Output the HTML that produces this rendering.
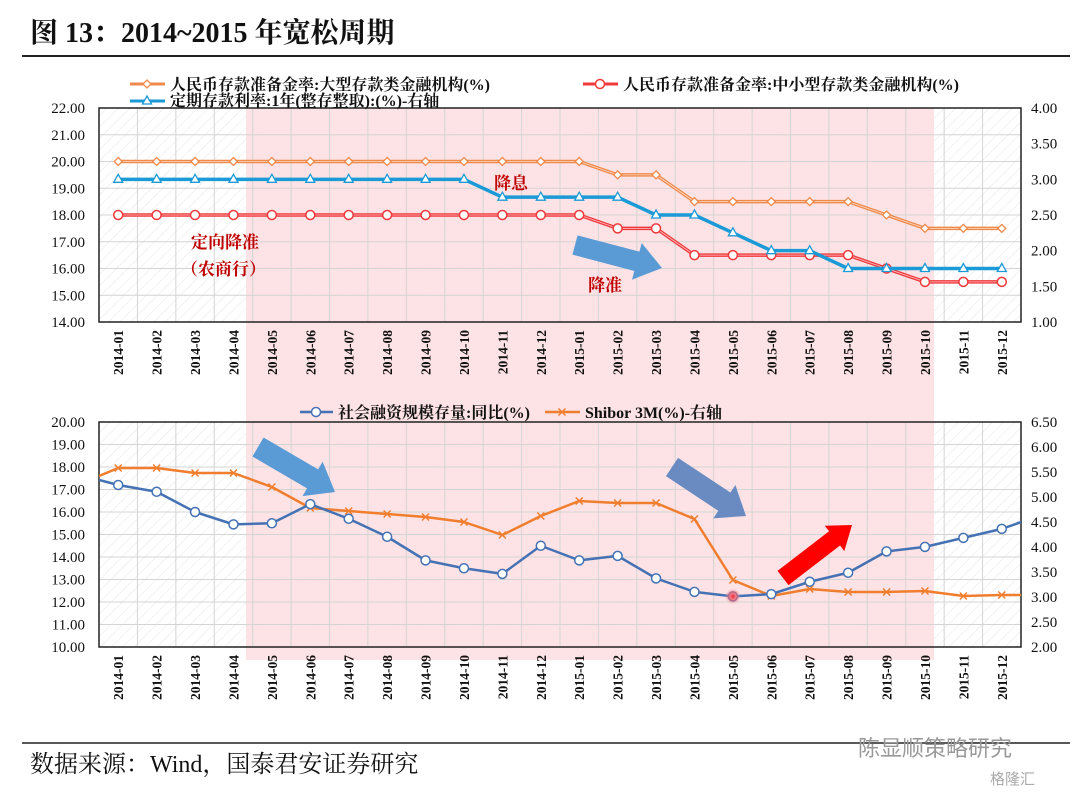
<!DOCTYPE html>
<html><head><meta charset="utf-8">
<style>
body{margin:0;background:#fff;}
svg{display:block;font-family:"Liberation Serif","Noto Serif CJK SC",serif;}
</style></head>
<body>
<svg id="c" width="1080" height="797" viewBox="0 0 1080 797">
<defs>
<pattern id="hatch" width="8" height="8" patternUnits="userSpaceOnUse" patternTransform="rotate(45)">
<line x1="0" y1="0" x2="0" y2="8" stroke="#e6e6e6" stroke-width="1"/></pattern>
<radialGradient id="glow"><stop offset="0" stop-color="#e8283a"/><stop offset="0.5" stop-color="#f06070" stop-opacity="0.7"/><stop offset="1" stop-color="#f8a0a8" stop-opacity="0"/></radialGradient>
</defs>
<text x="30" y="42" font-size="28" font-weight="bold" fill="#111">图 13：2014~2015 年宽松周期</text>
<line x1="22" y1="56" x2="1070" y2="56" stroke="#222" stroke-width="2"/>
<rect x="99" y="108" width="922" height="214" fill="url(#hatch)"/>
<rect x="99" y="422" width="922" height="225" fill="url(#hatch)"/>
<rect x="246" y="108" width="688" height="552" fill="#fde0e2" opacity="0.9"/>
<g id="top"></g><g id="bot"></g>
<line x1="22" y1="743" x2="1070" y2="743" stroke="#222" stroke-width="1.5"/>
<text x="30" y="772" font-size="24" fill="#111">数据来源：Wind，国泰君安证券研究</text>
<text x="858" y="756" font-size="22" fill="#999" font-family="Liberation Sans,Noto Sans CJK SC,sans-serif">陈显顺策略研究</text>
<text x="990" y="784" font-size="15" fill="#aaa" font-family="Liberation Sans,Noto Sans CJK SC,sans-serif">格隆汇</text>
</svg>
<script>
const cats=["2014-01","2014-02","2014-03","2014-04","2014-05","2014-06","2014-07","2014-08","2014-09","2014-10","2014-11","2014-12","2015-01","2015-02","2015-03","2015-04","2015-05","2015-06","2015-07","2015-08","2015-09","2015-10","2015-11","2015-12"];
const rrrLarge=[20,20,20,20,20,20,20,20,20,20,20,20,20,19.5,19.5,18.5,18.5,18.5,18.5,18.5,18,17.5,17.5,17.5];
const rrrSmall=[18,18,18,18,18,18,18,18,18,18,18,18,18,17.5,17.5,16.5,16.5,16.5,16.5,16.5,16,15.5,15.5,15.5];
const depRate=[3,3,3,3,3,3,3,3,3,3,2.75,2.75,2.75,2.75,2.5,2.5,2.25,2,2,1.75,1.75,1.75,1.75,1.75];
const tsfGrowth=[17.2,16.9,16.0,15.45,15.5,16.35,15.7,14.9,13.85,13.5,13.25,14.5,13.85,14.05,13.05,12.45,12.25,12.35,12.9,13.3,14.25,14.45,14.85,15.25];
const shibor=[5.58,5.58,5.48,5.48,5.2,4.78,4.72,4.66,4.6,4.5,4.24,4.62,4.92,4.88,4.88,4.56,3.34,3.02,3.16,3.1,3.1,3.12,3.02,3.04];
const tsfEdge=[17.65,15.85];
const shiborEdge=[5.26,3.04];
const topLeftTicks=["14.00","15.00","16.00","17.00","18.00","19.00","20.00","21.00","22.00"];
const topRightTicks=["1.00","1.50","2.00","2.50","3.00","3.50","4.00"];
const botLeftTicks=["10.00","11.00","12.00","13.00","14.00","15.00","16.00","17.00","18.00","19.00","20.00"];
const botRightTicks=["2.00","2.50","3.00","3.50","4.00","4.50","5.00","5.50","6.00","6.50"];

const NS="http://www.w3.org/2000/svg";
function mk(p,tag,at){const e=document.createElementNS(NS,tag);for(const k in at)e.setAttribute(k,at[k]);p.appendChild(e);return e;}
const L=99,R=1021,step=(R-L)/cats.length;
const X=i=>L+step*(i+0.5);

function drawPanel(g,top,bot,lmin,lmax,rmin,rmax,lt,rt,pre){
  const yl=v=>bot-(v-lmin)/(lmax-lmin)*(bot-top);
  const yr=v=>bot-(v-rmin)/(rmax-rmin)*(bot-top);
  lt.forEach((t,i)=>{const v=+t;const y=yl(v);
    const gl=mk(g,'line',{x1:L,x2:R,y1:y,y2:y,stroke:'#d4d4d4','stroke-width':1});
    
    const tx=mk(g,'text',{x:85,y:y+5,'text-anchor':'end','font-size':15,fill:'#111'});tx.textContent=t;
    });
  rt.forEach(t=>{const y=yr(+t);
    const tx=mk(g,'text',{x:1031,y:y+5,'font-size':15,fill:'#111'});tx.textContent=t;
    });
  for(let i=1;i<cats.length;i++){const x=L+step*i;
    const vl=mk(g,'line',{x1:x,x2:x,y1:top,y2:bot,stroke:'#d4d4d4','stroke-width':1});
    }
  const box=mk(g,'rect',{x:L,y:top,width:R-L,height:bot-top,fill:'none',stroke:'#222','stroke-width':1.5});
  
  cats.forEach((c,i)=>{const x=X(i),y=bot+8;
    const tx=mk(g,'text',{x:x+5,y:y,'font-size':13.5,'font-weight':'bold',fill:'#111','text-anchor':'end',transform:`rotate(-90 ${x+5} ${y})`});
    tx.textContent=c;});
  return {yl,yr};
}
function poly(g,pts,color,w,name,clip){
  const p=mk(g,'polyline',{points:pts.map(p=>p.join(',')).join(' '),fill:'none',stroke:color,'stroke-width':w,'stroke-linejoin':'round'});
  if(clip)p.setAttribute('clip-path',clip);
  return p;
}
function marker(g,type,x,y,color,name){
  let e;
  if(type==='diamond')e=mk(g,'polygon',{points:`${x},${y-4} ${x+4},${y} ${x},${y+4} ${x-4},${y}`,fill:'#fff',stroke:color,'stroke-width':1.3});
  else if(type==='circle')e=mk(g,'circle',{cx:x,cy:y,r:4.5,fill:'#fff',stroke:color,'stroke-width':1.5});
  else if(type==='tri')e=mk(g,'polygon',{points:`${x},${y-5} ${x+4.5},${y+3} ${x-4.5},${y+3}`,fill:'#fff',stroke:color,'stroke-width':1.3});
  else {e=mk(g,'path',{d:`M${x-3.5},${y-3.5}L${x+3.5},${y+3.5}M${x+3.5},${y-3.5}L${x-3.5},${y+3.5}`,stroke:color,'stroke-width':1.5});}
  
}
function text(g,x,y,s,t,size,color,weight){const e=mk(g,'text',{x:x,y:y,'font-size':size,fill:color,'font-weight':weight||'bold'});e.textContent=t;return e;}
function arrow(g,x1,y1,x2,y2,w,hw,hl,color,name){
  const dx=x2-x1,dy=y2-y1,len=Math.hypot(dx,dy),ux=dx/len,uy=dy/len,nx=-uy,ny=ux;
  const bx=x2-ux*hl,by=y2-uy*hl;
  const pts=[[x1+nx*w/2,y1+ny*w/2],[bx+nx*w/2,by+ny*w/2],[bx+nx*hw/2,by+ny*hw/2],[x2,y2],[bx-nx*hw/2,by-ny*hw/2],[bx-nx*w/2,by-ny*w/2],[x1-nx*w/2,y1-ny*w/2]];
  const e=mk(g,'polygon',{points:pts.map(p=>p.join(',')).join(' '),fill:color});
  
}
const svg=document.getElementById('c');
const cp=mk(mk(svg,'defs',{}),'clipPath',{id:'clipB'});mk(cp,'rect',{x:L,y:422,width:R-L,height:225});

const gt=document.getElementById('top');
const t=drawPanel(gt,108,322,14,22,1,4,topLeftTicks,topRightTicks,'top');
[[rrrLarge,'#f08a4b','diamond','rrr-large',t.yl],[rrrSmall,'#f0393c','circle','rrr-small',t.yl],[depRate,'#1a9ad6','tri','deposit-rate',t.yr]].forEach(([d,c,m,n,f])=>{
  poly(gt,d.map((v,i)=>[X(i),f(v)]),c,3.5,n+'-line');
  poly(gt,d.map((v,i)=>[X(i),f(v)]),'#fff',0.8,n+'-line-highlight').setAttribute('opacity',c==='#1a9ad6'?0:0.7);
  d.forEach((v,i)=>marker(gt,m,X(i),f(v),c,n+'-point'));
});
poly(gt,[[130,84],[165,84]],'#f08a4b',3,'legend-rrr-large-line');marker(gt,'diamond',147,84,'#f08a4b','legend-rrr-large-marker');
text(gt,170,90,'legend-rrr-large','人民币存款准备金率:大型存款类金融机构(%)',16,'#111');
poly(gt,[[583,84],[618,84]],'#f0393c',3,'legend-rrr-small-line');marker(gt,'circle',600,84,'#f0393c','legend-rrr-small-marker');
text(gt,623,90,'legend-rrr-small','人民币存款准备金率:中小型存款类金融机构(%)',16,'#111');
poly(gt,[[130,101],[165,101]],'#1a9ad6',3,'legend-deposit-line');marker(gt,'tri',147,101,'#1a9ad6','legend-deposit-marker');
text(gt,170,106,'legend-deposit-rate','定期存款利率:1年(整存整取):(%)-右轴',16,'#111');
text(gt,494,189,'annotation-rate-cut','降息',17,'#c00000');
text(gt,191,248,'annotation-targeted-rrr-cut','定向降准',17,'#c00000');
text(gt,181,275,'annotation-rural-banks','（农商行）',17,'#c00000');
text(gt,588,291,'annotation-rrr-cut','降准',17,'#c00000');
arrow(gt,575,245,662,268,20,38,26,'#5b9bd5','top-blue-arrow');

const gb=document.getElementById('bot');
const b=drawPanel(gb,422,647,10,20,2,6.5,botLeftTicks,botRightTicks,'bottom');
const tsfPts=[[X(-1),b.yl(tsfEdge[0])]].concat(tsfGrowth.map((v,i)=>[X(i),b.yl(v)]),[[X(cats.length),b.yl(tsfEdge[1])]]);
const shPts=[[X(-1),b.yr(shiborEdge[0])]].concat(shibor.map((v,i)=>[X(i),b.yr(v)]),[[X(cats.length),b.yr(shiborEdge[1])]]);
poly(gb,shPts,'#f07e2e',2.5,'shibor-line','url(#clipB)');
poly(gb,tsfPts,'#4472b4',2.5,'tsf-growth-line','url(#clipB)');
shibor.forEach((v,i)=>marker(gb,'x',X(i),b.yr(v),'#f07e2e','shibor-point'));
tsfGrowth.forEach((v,i)=>marker(gb,'circle',X(i),b.yl(v),'#4472b4','tsf-point'));
const gl=mk(gb,'circle',{cx:X(16),cy:b.yl(tsfGrowth[16]),r:8,fill:'url(#glow)'});

poly(gb,[[300,412],[333,412]],'#4472b4',2.5,'legend-tsf-line');marker(gb,'circle',316,412,'#4472b4','legend-tsf-marker');
text(gb,338,418,'legend-tsf-growth','社会融资规模存量:同比(%)',16,'#111');
poly(gb,[[545,412],[580,412]],'#f07e2e',2.5,'legend-shibor-line');marker(gb,'x',562,412,'#f07e2e','legend-shibor-marker');
text(gb,585,418,'legend-shibor','Shibor 3M(%)-右轴',16,'#111');
arrow(gb,258,447,335,492,22,40,26,'#5b9bd5','bottom-blue-arrow');
arrow(gb,672,467,746,516,22,40,26,'#6a8bc2','bottom-slate-arrow');
arrow(gb,783,578,852,525,18,32,22,'#ff0000','bottom-red-arrow');
</script>
</body></html>
